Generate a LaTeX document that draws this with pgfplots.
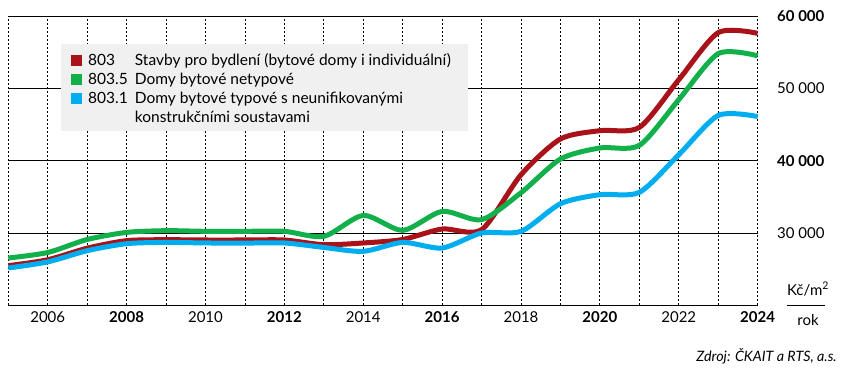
\documentclass[border=0pt]{standalone}
\usepackage{fontspec}
\setmainfont{Lato}
\usepackage{pgfplots}
\pgfplotsset{compat=1.18}
\definecolor{cred}{RGB}{168,18,24}
\definecolor{cgreen}{RGB}{18,176,74}
\definecolor{cblue}{RGB}{0,174,239}
\definecolor{lgray}{RGB}{240,240,240}
\begin{document}
\begin{tikzpicture}[x=1pt,y=1pt]
\useasboundingbox (0,0) rectangle (844,-368);
\begin{axis}[
  at={(8.3pt,-16pt)}, anchor=north west,
  width=749.4pt, height=289.3pt, scale only axis,
  xmin=2005, xmax=2024, ymin=20000, ymax=60000,
  scaled y ticks=false, scaled x ticks=false,
  axis line style={draw=none},
  tick style={draw=none},
  xtick={2005,...,2024},
  xticklabels={,2006,,\textbf{2008},,2010,,\textbf{2012},,2014,,\textbf{2016},,2018,,\textbf{2020},,2022,,\textbf{2024}},
  ytick={20000,30000,40000,50000,60000},
  yticklabels={,30 000,\textbf{40 000},50 000,\textbf{60 000}},
  yticklabel pos=right,
  yticklabel style={anchor=west, xshift=16pt, font=\fontsize{15}{17}\selectfont},
  xticklabel style={yshift=-3pt, font=\fontsize{15}{17}\selectfont},
  /pgf/number format/assume math mode=true,
  xmajorgrids, ymajorgrids,
  x grid style={black, line width=0.8pt, dash pattern=on 2pt off 2pt},
  y grid style={black, solid, line width=0.9pt},
  clip=false,
]
\addplot[cred, line width=5pt, smooth, tension=0.45] coordinates {
(2005,25480) (2006,26300) (2007,27900) (2008,28940) (2009,29070) (2010,29030) (2011,29030) (2012,29030) (2013,28380) (2014,28620) (2015,29100) (2016,30550) (2017,30460) (2018,38060) (2019,43000) (2020,44150) (2021,44600) (2022,51200) (2023,57700) (2024,57600)};
\addplot[cgreen, line width=5pt, smooth, tension=0.45] coordinates {
(2005,26540) (2006,27300) (2007,29100) (2008,30080) (2009,30320) (2010,30230) (2011,30230) (2012,30230) (2013,29530) (2014,32430) (2015,30360) (2016,32990) (2017,31840) (2018,35570) (2019,40230) (2020,41760) (2021,42120) (2022,48440) (2023,54800) (2024,54500)};
\addplot[cblue, line width=5pt, smooth, tension=0.45] coordinates {
(2005,25160) (2006,26000) (2007,27550) (2008,28520) (2009,28700) (2010,28620) (2011,28600) (2012,28620) (2013,28000) (2014,27460) (2015,28700) (2016,27920) (2017,30000) (2018,30230) (2019,34050) (2020,35300) (2021,35620) (2022,40830) (2023,46250) (2024,46100)};
\end{axis}
% legend
\fill[lgray] (61,-44) rectangle (468,-131);
\fill[cred] (71.3,-54.5) rectangle (82.3,-65.5);
\fill[cgreen] (71.3,-73.8) rectangle (82.3,-84.8);
\fill[cblue] (71.3,-93.2) rectangle (82.3,-104.2);
\begin{scope}[every node/.style={anchor=base west, inner sep=0pt, font=\fontsize{15.5}{17}\selectfont}]
\node at (88,-65) {803};
\node at (134.7,-65) {Stavby pro bydlení (bytové domy i individuální)};
\node at (88,-84.3) {803.5};
\node at (134.7,-84.3) {Domy bytové netypové};
\node at (88,-103.7) {803.1};
\node at (134.7,-103.7) {Domy bytové typové s neunifikovanými};
\node at (134.7,-122) {konstrukčními soustavami};
\end{scope}
\node[anchor=base, inner sep=0pt, font=\fontsize{15}{17}\selectfont] at (808,-295) {Kč/m\textsuperscript{2}};
\draw[black, line width=0.9pt] (786.7,-305.3) -- (825,-305.3);
\node[anchor=base, inner sep=0pt, font=\fontsize{15}{17}\selectfont] at (808,-325) {rok};
\node[anchor=base east, inner sep=0pt, font=\fontsize{14.3}{16}\selectfont\itshape] at (837,-361.5) {Zdroj: ČKAIT a RTS, a.s.};
\end{tikzpicture}
\end{document}
